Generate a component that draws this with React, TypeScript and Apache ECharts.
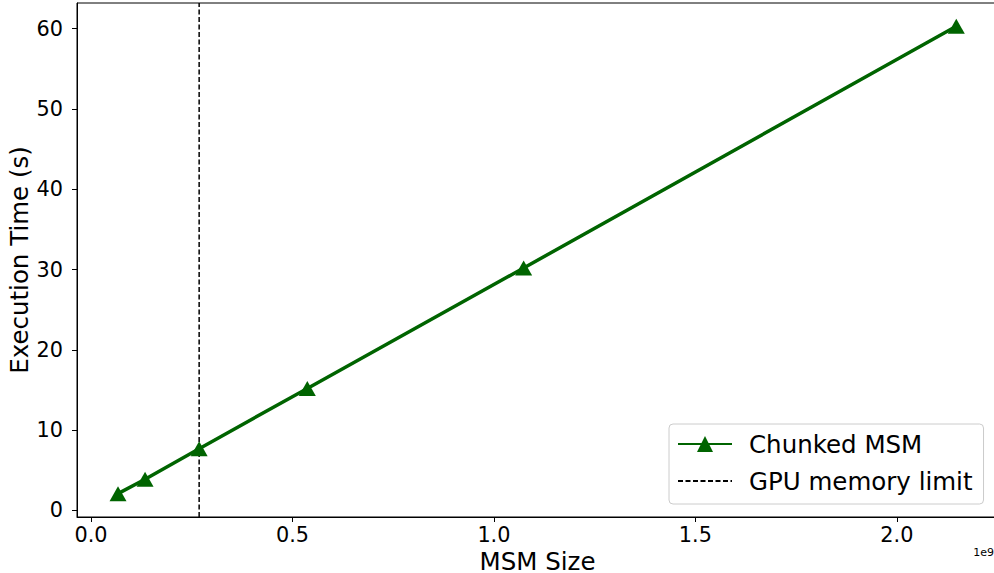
import React, { useEffect, useRef } from "react";
import * as echarts from "echarts";

const msmSizes = [67108864, 134217728, 268435456, 536870912, 1073741824, 2147483648];
const chunkedTimes = [2.1, 3.9, 7.7, 15.2, 30.2, 60.3];
const gpuMemoryLimit = 268435456;
const xTicks = [0, 0.5e9, 1.0e9, 1.5e9, 2.0e9];
const yTicks = [0, 10, 20, 30, 40, 50, 60];
const xMin = -0.0347e9;
const xMax = 2.251e9;
const yMin = -0.81;
const yMax = 63.2;

const FONT = "DejaVu Sans";

export default function App() {
  const ref = useRef<HTMLDivElement>(null);
  useEffect(() => {
    const chart = echarts.init(ref.current!, null, { renderer: "svg" });
    chart.setOption({
      animation: false,
      backgroundColor: "#ffffff",
      textStyle: { fontFamily: FONT, color: "#000" },
      grid: {
        left: 77,
        top: 3,
        width: 921,
        height: 514,
        containLabel: false,
        outerBoundsMode: "none",
        show: true,
        borderColor: "#000",
        borderWidth: 1,
        backgroundColor: "transparent",
      },
      xAxis: {
        type: "value",
        min: xMin,
        max: xMax,
        name: "MSM Size",
        nameLocation: "middle",
        nameGap: 34,
        nameMoveOverlap: false,
        nameTextStyle: { fontSize: 24.5, fontFamily: FONT, color: "#000", lineHeight: 20 },
        axisLine: { show: true, onZero: false, lineStyle: { color: "#000", width: 1 } },
        axisTick: { show: true, length: 5, lineStyle: { color: "#000" }, customValues: xTicks },
        axisLabel: {
          fontSize: 20.8,
          fontFamily: FONT,
          color: "#000",
          margin: 7,
          customValues: xTicks,
          formatter: (v: number) => (v / 1e9).toFixed(1),
        },
        splitLine: { show: false },
      },
      yAxis: {
        type: "value",
        min: yMin,
        max: yMax,
        name: "Execution Time (s)",
        nameLocation: "middle",
        nameGap: 45,
        nameMoveOverlap: false,
        nameTextStyle: { fontSize: 24.5, fontFamily: FONT, color: "#000" },
        axisLine: { show: true, onZero: false, lineStyle: { color: "#000", width: 1 } },
        axisTick: { show: true, length: 5, lineStyle: { color: "#000" }, customValues: yTicks },
        axisLabel: {
          fontSize: 20.8,
          fontFamily: FONT,
          color: "#000",
          margin: 14,
          customValues: yTicks,
          formatter: (v: number) => String(v),
        },
        splitLine: { show: false },
      },
      legend: {
        orient: "vertical",
        left: 669,
        top: 424,
        padding: [6, 11, 9, 8],
        itemWidth: 54,
        itemHeight: 20,
        itemGap: 9,
        borderColor: "#cccccc",
        borderWidth: 1,
        borderRadius: 4,
        backgroundColor: "rgba(255,255,255,0.8)",
        textStyle: { fontSize: 24.5, fontFamily: FONT, color: "#000", lineHeight: 28, padding: [0, 0, 0, 12] },
        data: [
          { name: "Chunked MSM" },
          { name: "GPU memory limit", itemStyle: { opacity: 0 } },
        ],
      },
      series: [
        {
          name: "Chunked MSM",
          type: "line",
          data: msmSizes.map((x, i) => [x, chunkedTimes[i]]),
          color: "#006400",
          lineStyle: { color: "#006400", width: 3.5 },
          itemStyle: { color: "#006400" },
          symbol: "triangle",
          symbolSize: [17, 15],
          z: 3,
        },
        {
          name: "GPU memory limit",
          type: "line",
          data: [
            [gpuMemoryLimit, yMin],
            [gpuMemoryLimit, yMax],
          ],
          color: "#000",
          lineStyle: { color: "#000", width: 1.5, type: [5, 2.5] },
          symbol: "none",
          z: 2,
        },
      ],
      graphic: [
        {
          type: "text",
          right: 0,
          top: 547,
          style: { text: "1e9", fontSize: 11, fontFamily: FONT, fill: "#000" },
        },
      ],
    });
    return () => chart.dispose();
  }, []);
  return <div ref={ref} style={{ position: "fixed", left: 0, top: 0, width: 994, height: 573 }} />;
}
